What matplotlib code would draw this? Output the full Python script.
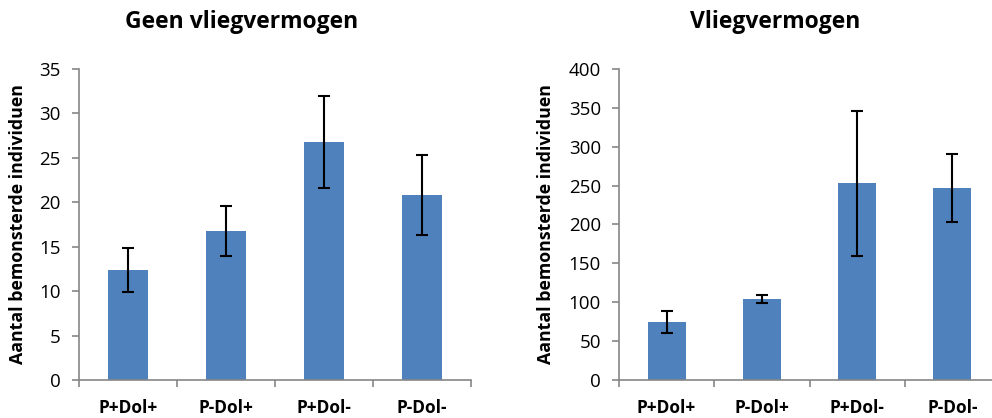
import numpy as np
import matplotlib.pyplot as plt

categories = ['P+Dol+', 'P-Dol+', 'P+Dol-', 'P-Dol-']
geen_vals = [12.4, 16.8, 26.8, 20.8]
geen_err = [2.5, 2.8, 5.2, 4.5]
vlieg_vals = [75, 104, 253, 247]
vlieg_err = [14, 5, 93, 43.5]

plt.rcParams['font.family'] = ['Open Sans', 'DejaVu Sans']
bar_col = '#4F81BD'
axis_col = '#868686'

fig = plt.figure(figsize=(9.92, 4.18), dpi=100)
W, H = 992, 418

def panel(left_px, right_px, vals, errs, ymax, step, title, title_x):
    ax = fig.add_axes([left_px / W, 1 - 380 / H, (right_px - left_px) / W, (380 - 69) / H])
    x = np.arange(len(vals))
    ax.bar(x, vals, width=0.4, color=bar_col, zorder=2)
    ax.errorbar(x, vals, yerr=errs, fmt='none', ecolor='black', elinewidth=1.5,
                capsize=4.5, capthick=1.5, zorder=3)
    ax.set_xlim(-0.5, len(vals) - 0.5)
    ax.set_ylim(0, ymax)
    ax.set_yticks(np.arange(0, ymax + 1, step))
    ax.set_xticks(np.arange(-0.5, len(vals)), minor=False)
    ax.set_xticklabels([])
    ax.set_xticks(x, minor=True)
    ax.set_xticklabels(categories, minor=True, fontweight='bold', fontsize=12.5)
    ax.tick_params(axis='x', which='minor', length=0, pad=14)
    ax.tick_params(axis='x', which='major', length=5, color=axis_col, width=1.2)
    ax.tick_params(axis='y', length=5, color=axis_col, width=1.2, labelsize=13.5, pad=8)
    for s in ['top', 'right']:
        ax.spines[s].set_visible(False)
    for s in ['left', 'bottom']:
        ax.spines[s].set_color(axis_col)
        ax.spines[s].set_linewidth(1.2)
    ax.set_ylabel('Aantal bemonsterde individuen', fontweight='bold', fontsize=12.8)
    fig.text(title_x / W, 1 - 22 / H, title, ha='center', va='center',
             fontweight='bold', fontsize=16.5)
    return ax

ax1 = panel(79, 471, geen_vals, geen_err, 35, 5, 'Geen vliegvermogen', 242)
ax2 = panel(619, 1000, vlieg_vals, vlieg_err, 400, 50, 'Vliegvermogen', 775)
ax1.yaxis.set_label_coords((18 - 79) / 392, 0.5)
ax2.yaxis.set_label_coords((546 - 619) / 381, 0.5)
ax1.yaxis.label.set_va('center')
ax2.yaxis.label.set_va('center')

fig.savefig('out.png', dpi=100)
